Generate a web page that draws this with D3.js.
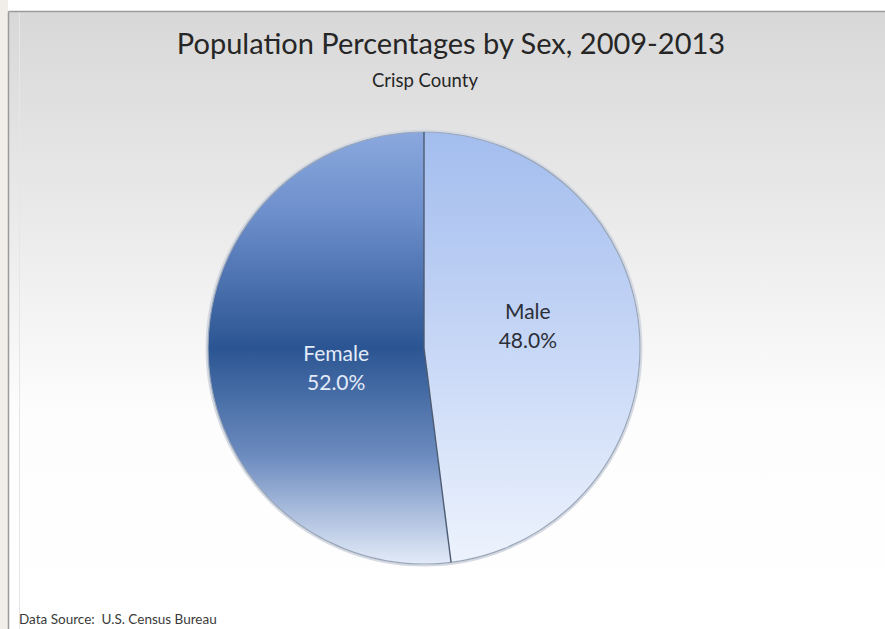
<!DOCTYPE html>
<html>
<head>
<meta charset="utf-8">
<script src="https://cdn.jsdelivr.net/npm/d3@7"></script>
<style>
  html, body { margin: 0; padding: 0; background: #ffffff; }
  svg { display: block; }
</style>
</head>
<body>
<svg id="chart" width="885" height="629"></svg>
<script>
// Population share by sex, Crisp County, 2009-2013
const categories = ["Male", "Female"];
const percentages = [48.0, 52.0];
const titleText = "Population Percentages by Sex, 2009-2013";
const subtitleText = "Crisp County";
const sourceText = "Data Source:  U.S. Census Bureau";

const width = 885, height = 629;
const svg = d3.select("#chart");
const defs = svg.append("defs");
const fontFamily = "Lato, 'Open Sans', sans-serif";

// Chart area background: grey fading to white
const bg = defs.append("linearGradient")
  .attr("id", "bgGrad").attr("x1", 0).attr("y1", 0).attr("x2", 0).attr("y2", 1);
bg.append("stop").attr("offset", "0%").attr("stop-color", "#d8d8d8");
bg.append("stop").attr("offset", "35%").attr("stop-color", "#ebebeb");
bg.append("stop").attr("offset", "65%").attr("stop-color", "#fdfdfd");
bg.append("stop").attr("offset", "100%").attr("stop-color", "#ffffff");

// Pie geometry
const cx = 424, cy = 348, radius = 216;

// Slice fills, vertical gradients across the pie's height
function sliceGradient(id, stops) {
  const gr = defs.append("linearGradient")
    .attr("id", id).attr("gradientUnits", "userSpaceOnUse")
    .attr("x1", 0).attr("y1", -radius).attr("x2", 0).attr("y2", radius);
  stops.forEach(([o, c]) => gr.append("stop").attr("offset", o).attr("stop-color", c));
}
sliceGradient("grad-Male", [["0%", "#a3bdee"], ["50%", "#c7d7f6"], ["100%", "#edf3fd"]]);
sliceGradient("grad-Female", [["0%", "#8aa8de"], ["20%", "#6b8dca"], ["50%", "#2b5592"],
                              ["75%", "#6c8bbf"], ["100%", "#e3ebf8"]]);

// Page strip on the left, frame and plot background
svg.append("rect").attr("x", 0).attr("y", 0).attr("width", 8).attr("height", height).attr("fill", "#f1eee9");
svg.append("rect").attr("x", 9).attr("y", 12).attr("width", width - 9).attr("height", height - 12)
  .attr("fill", "url(#bgGrad)");
svg.append("line").attr("x1", 8.5).attr("x2", width).attr("y1", 11.5).attr("y2", 11.5)
  .attr("stroke", "#9b9b9b").attr("stroke-width", 1.5);
svg.append("line").attr("x1", 8.5).attr("x2", 8.5).attr("y1", 11.5).attr("y2", height)
  .attr("stroke", "#9b9b9b").attr("stroke-width", 1.5);
svg.append("line").attr("x1", 19.5).attr("x2", 19.5).attr("y1", 13).attr("y2", height)
  .attr("stroke", "#e6e6e6").attr("stroke-width", 1);

// Titles
svg.append("text")
  .attr("x", 451).attr("y", 54)
  .attr("text-anchor", "middle")
  .attr("font-family", fontFamily)
  .attr("font-size", 29)
  .attr("fill", "#262626")
  .text(titleText);
svg.append("text")
  .attr("x", 425).attr("y", 87)
  .attr("text-anchor", "middle")
  .attr("font-family", fontFamily)
  .attr("font-size", 18.5)
  .attr("fill", "#262626")
  .text(subtitleText);

// Pie
const data = categories.map((c, i) => ({ category: c, value: percentages[i] }));
const pie = d3.pie().value(d => d.value).sort(null);
const arc = d3.arc().innerRadius(0).outerRadius(radius);
const arcs = pie(data);

const g = svg.append("g").attr("transform", `translate(${cx},${cy})`);

// soft rim behind the pie
g.append("circle").attr("r", radius + 1.5).attr("fill", "none")
  .attr("stroke", "#d4d9e2").attr("stroke-width", 2);

g.selectAll("path.slice")
  .data(arcs)
  .join("path")
  .attr("class", "slice")
  .attr("d", arc)
  .attr("fill", d => `url(#grad-${d.data.category})`);

// outer edge
g.append("circle").attr("r", radius).attr("fill", "none")
  .attr("stroke", "#9aa6b8").attr("stroke-width", 1.2);

// slice dividers
const dividerAngles = arcs.map(a => a.startAngle);
g.selectAll("line.divider")
  .data(dividerAngles)
  .join("line")
  .attr("class", "divider")
  .attr("x1", 0).attr("y1", 0)
  .attr("x2", a => radius * Math.sin(a))
  .attr("y2", a => -radius * Math.cos(a))
  .attr("stroke", "#4d5b73").attr("stroke-width", 1.4);

// Data labels
const labelRadius = { Male: 104, Female: 88 };
const labelShift = { Male: -15, Female: 14 };
const labelColor = { Male: "#2b2f38", Female: "#e3ebf9" };
const labels = g.selectAll("g.label")
  .data(arcs)
  .join("g")
  .attr("class", "label")
  .attr("transform", d => {
    const r = labelRadius[d.data.category];
    const [x, y] = d3.arc().innerRadius(r).outerRadius(r).centroid(d);
    return `translate(${x},${y + labelShift[d.data.category]})`;
  });
labels.append("text")
  .attr("text-anchor", "middle")
  .attr("y", -7)
  .attr("font-family", fontFamily)
  .attr("font-size", 21)
  .attr("fill", d => labelColor[d.data.category])
  .text(d => d.data.category);
labels.append("text")
  .attr("text-anchor", "middle")
  .attr("y", 22)
  .attr("font-family", fontFamily)
  .attr("font-size", 21)
  .attr("fill", d => labelColor[d.data.category])
  .text(d => d3.format(".1f")(d.data.value) + "%");

// Source note
svg.append("text")
  .attr("x", 19).attr("y", 624)
  .attr("font-family", fontFamily)
  .attr("font-size", 13.5)
  .attr("fill", "#3a3a3a")
  .style("white-space", "pre")
  .text(sourceText);
</script>
</body>
</html>
